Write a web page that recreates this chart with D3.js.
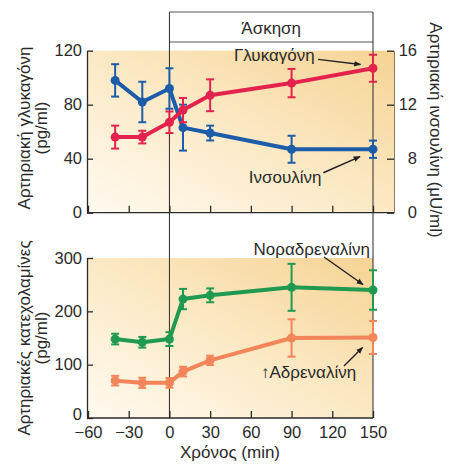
<!DOCTYPE html>
<html><head><meta charset="utf-8">
<script src="https://cdn.jsdelivr.net/npm/d3@7"></script>
<style>
body{margin:0;background:#fff}
svg{display:block}
text{font-family:"Liberation Sans",Arial,Helvetica,sans-serif}
</style>
</head><body><svg id="c" width="454" height="466"></svg>
<script>
// ---- data ----
const times = [-40, -20, 0, 10, 30, 90, 150];
const glucagon = [56, 56, 67, 76, 87, 96, 107];
const glucagonErr = [8.5, 4.7, 8, 9, 11.8, 10.5, 10];
const insulin = [13.8, 12.2, 13.2, 10.3, 9.9, 8.7, 8.7];
const insulinErr = [1.2, 1.5, 1.5, 1.7, 0.55, 1.0, 0.64];
const noradrenaline = [148, 142, 148, 223, 230, 245, 240];
const noradrenalineErr = [10, 10, 13, 19, 13, 44, 37];
const adrenaline = [70, 66, 66, 87, 108, 150, 151];
const adrenalineErr = [9, 9.5, 9, 9, 8.7, 35, 31];
const timeTicks = [-60, -30, 0, 30, 60, 90, 120, 150];
const glucagonTicks = [0, 40, 80, 120];
const insulinTicks = [4, 8, 12, 16];          // broken axis: lowest tick is labelled 0
const insulinTickLabels = ["0", "8", "12", "16"];
const catTicks = [0, 100, 200, 300];
const exercise = [0, 150];

const svg = d3.select("#c");
const FS = 17;      // titles and annotations
const TFS = 16.5;   // tick labels
const ink = "#2a2a2a";

// ---- scales ----
const x = d3.scaleLinear().domain([-60, 150]).range([88, 373]);
const yG = d3.scaleLinear().domain([0, 120]).range([212.7, 50.7]);
const yI = d3.scaleLinear().domain([4, 16]).range([212.7, 50.7]);
const yC = d3.scaleLinear().domain([0, 300]).range([418, 258]);

// ---- background gradient ----
const defs = svg.append("defs");
const gr = defs.append("linearGradient").attr("id", "bg")
  .attr("x1", 0).attr("y1", 1).attr("x2", 1).attr("y2", 0);
gr.append("stop").attr("offset", "0%").attr("stop-color", "#fffaf0");
gr.append("stop").attr("offset", "45%").attr("stop-color", "#fcebc9");
gr.append("stop").attr("offset", "100%").attr("stop-color", "#f6d394");

const topRight = 394;
svg.append("rect").attr("x", 87).attr("y", yG(120)).attr("width", topRight - 87)
  .attr("height", yG(0) - yG(120)).attr("fill", "url(#bg)");
svg.append("rect").attr("x", 87).attr("y", yC(300)).attr("width", x(150) - 87)
  .attr("height", yC(0) - yC(300)).attr("fill", "url(#bg)");

// ---- exercise box and vertical markers ----
svg.append("line").attr("x1", x(exercise[0])).attr("x2", x(exercise[1]))
  .attr("y1", 12).attr("y2", 12).attr("stroke", "#555").attr("stroke-width", 1);
svg.append("line").attr("x1", x(exercise[0])).attr("x2", x(exercise[1]))
  .attr("y1", 42).attr("y2", 42).attr("stroke", "#555").attr("stroke-width", 1);
exercise.forEach(t => {
  svg.append("line").attr("x1", x(t)).attr("x2", x(t)).attr("y1", 12).attr("y2", yC(0))
    .attr("stroke", ink).attr("stroke-width", 1);
});
svg.append("text").attr("x", (x(exercise[0]) + x(exercise[1])) / 2).attr("y", 34)
  .attr("text-anchor", "middle").attr("font-size", FS).attr("fill", ink).text("Άσκηση");

// ---- axes ----
function styleAxis(g) {
  g.selectAll("path").attr("stroke", ink).attr("stroke-width", 1.3);
  g.selectAll("line").attr("stroke", ink).attr("stroke-width", 1.3);
  g.selectAll("text").attr("font-size", TFS).attr("fill", ink)
    .attr("font-family", '"Liberation Sans",Arial,sans-serif');
}
// top panel
svg.append("g").attr("transform", "translate(87,0)")
  .call(d3.axisLeft(yG).tickValues(glucagonTicks).tickSize(-6).tickSizeOuter(0).tickPadding(5))
  .call(styleAxis);
svg.append("g").attr("transform", `translate(0,${yG(0)})`)
  .call(d3.axisBottom(x).tickValues(timeTicks).tickSize(-7).tickSizeOuter(0).tickFormat(""))
  .call(styleAxis)
  .call(g => g.select("path").attr("d", `M87,0H${topRight}`));
const ra = svg.append("g").attr("transform", `translate(${topRight},0)`)
  .call(d3.axisRight(yI).tickValues(insulinTicks).tickSize(-7).tickSizeOuter(0)
    .tickFormat((d, i) => insulinTickLabels[i]))
  .call(styleAxis);
ra.select("path").attr("stroke", "#8a7a5a").attr("stroke-width", 1);
ra.selectAll("text").attr("text-anchor", "end").attr("x", 23);

// bottom panel
const la = svg.append("g").attr("transform", "translate(87,0)")
  .call(d3.axisLeft(yC).tickValues(catTicks).tickSize(-6).tickSizeOuter(0).tickPadding(5))
  .call(styleAxis);
la.selectAll("text").filter(d => d === 0).attr("dy", "0.06em");
svg.append("g").attr("transform", `translate(0,${yC(0)})`)
  .call(d3.axisBottom(x).tickValues(timeTicks).tickSize(-7).tickSizeOuter(0).tickPadding(8.5))
  .call(styleAxis)
  .call(g => g.select("path").attr("d", `M87,0H${x(150)}`));

// ---- axis titles ----
function vtitle(lines, cy, rot) {
  lines.forEach(l => {
    svg.append("text").attr("transform", `translate(${l.x},${cy}) rotate(${rot})`)
      .attr("text-anchor", "middle").attr("font-size", FS).attr("fill", ink).text(l.t);
  });
}
vtitle([{t: "Αρτηριακή γλυκαγόνη", x: 30}, {t: "(pg/ml)", x: 47}], 128, -90);
vtitle([{t: "Αρτηριακές κατεχολαμίνες", x: 30}, {t: "(pg/ml)", x: 47}], 338, -90);
vtitle([{t: "Αρτηριακή ινσουλίνη (μU/ml)", x: 430}], 130, 90);
svg.append("text").attr("x", 230).attr("y", 458).attr("text-anchor", "middle")
  .attr("font-size", FS).attr("fill", ink).text("Χρόνος (min)");

// ---- series ----
function series(vals, errs, y, color) {
  const pts = times.map((t, i) => ({t, v: vals[i], e: errs[i]}));
  const g = svg.append("g");
  const cw = 4;
  pts.forEach(p => {
    const x0 = x(p.t), yt = y(p.v + p.e), yb = y(p.v - p.e);
    g.append("line").attr("x1", x0).attr("x2", x0).attr("y1", yt).attr("y2", yb)
      .attr("stroke", color).attr("stroke-width", 2);
    [yt, yb].forEach(yy => g.append("line").attr("x1", x0 - cw).attr("x2", x0 + cw)
      .attr("y1", yy).attr("y2", yy).attr("stroke", color).attr("stroke-width", 2));
  });
  g.append("path").datum(pts)
    .attr("d", d3.line().x(d => x(d.t)).y(d => y(d.v)))
    .attr("fill", "none").attr("stroke", color).attr("stroke-width", 4)
    .attr("stroke-linejoin", "round").attr("stroke-linecap", "round");
  g.selectAll("circle").data(pts).join("circle")
    .attr("cx", d => x(d.t)).attr("cy", d => y(d.v)).attr("r", 4.5).attr("fill", color);
}
series(insulin, insulinErr, yI, "#1d5ca8");
series(glucagon, glucagonErr, yG, "#e3234d");
series(noradrenaline, noradrenalineErr, yC, "#1f9a50");
series(adrenaline, adrenalineErr, yC, "#f2855a");

// ---- annotations (in data coordinates) ----
defs.append("marker").attr("id", "ah").attr("viewBox", "0 0 10 10")
  .attr("refX", 9).attr("refY", 5).attr("markerWidth", 7).attr("markerHeight", 7)
  .attr("orient", "auto").attr("markerUnits", "userSpaceOnUse")
  .append("path").attr("d", "M0,1 L10,5 L0,9 Z").attr("fill", "#222");

const notes = [
  {label: "Γλυκαγόνη", y: yG, lt: 47.5, lv: 112.7, a: [109.5, 113.6, 140.8, 109.8]},
  {label: "Ινσουλίνη", y: yG, lt: 58.5, lv: 22, a: [113.4, 29.6, 140.4, 41.6]},
  {label: "Νοραδρεναλίνη", y: yC, lt: 62, lv: 305.6, a: [113.9, 301.9, 142.6, 250.3]},
  {label: "↑Αδρεναλίνη", y: yC, lt: 67.5, lv: 75, a: [128.6, 97.5, 142.3, 132.2]}
];
notes.forEach(n => {
  svg.append("text").attr("x", x(n.lt)).attr("y", n.y(n.lv)).attr("font-size", FS)
    .attr("fill", ink).text(n.label);
  svg.append("line").attr("x1", x(n.a[0])).attr("y1", n.y(n.a[1]))
    .attr("x2", x(n.a[2])).attr("y2", n.y(n.a[3]))
    .attr("stroke", "#222").attr("stroke-width", 1.4).attr("marker-end", "url(#ah)");
});
</script>
</body></html>
